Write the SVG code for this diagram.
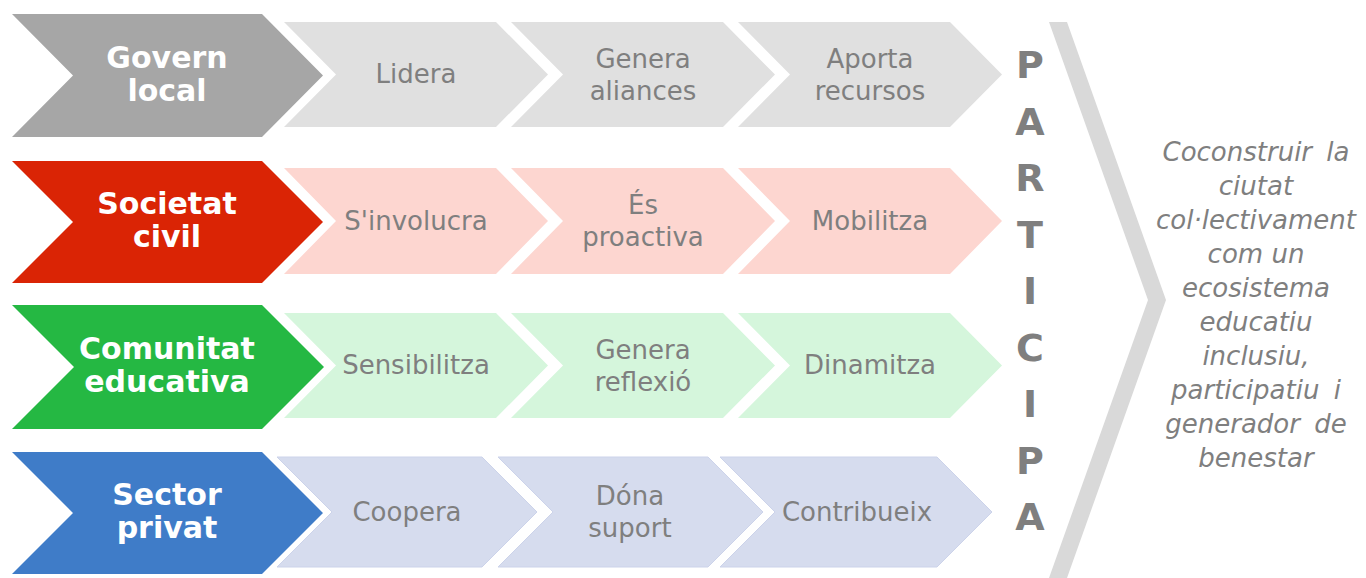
<svg xmlns="http://www.w3.org/2000/svg" width="1366" height="578" viewBox="0 0 1366 578">
<style>
.main{font-family:"DejaVu Sans",Verdana,sans-serif;font-weight:bold;font-size:30px;fill:#ffffff;text-anchor:middle}
.sec{font-family:"DejaVu Sans",Verdana,sans-serif;font-size:26px;fill:#7f7f7f;text-anchor:middle}
.big{font-family:"DejaVu Sans",Verdana,sans-serif;font-weight:bold;font-size:38px;fill:#7f7f7f;text-anchor:middle}
.it{font-family:"DejaVu Sans",Verdana,sans-serif;font-style:italic;font-size:26px;fill:#7f7f7f;text-anchor:middle}
</style>
<rect width="1366" height="578" fill="#ffffff"/>
<g id="govern">
<polygon points="12,14 262,14 323,75.5 262,137 12,137 73,75.5" fill="#a6a6a6"/>
<text class="main" x="167" y="68">Govern</text><text class="main" x="167" y="101">local</text>
</g>
<g id="lidera"><polygon points="284,22 496,22 548,74.5 496,127 284,127 336,74.5" fill="#e0e0e0"/><text class="sec" x="416" y="83">Lidera</text></g>
<g id="genera-aliances"><polygon points="511,22 723,22 775,74.5 723,127 511,127 563,74.5" fill="#e0e0e0"/><text class="sec" x="643" y="68">Genera</text><text class="sec" x="643" y="100">aliances</text></g>
<g id="aporta"><polygon points="738,22 950,22 1002,74.5 950,127 738,127 790,74.5" fill="#e0e0e0"/><text class="sec" x="870" y="68">Aporta</text><text class="sec" x="870" y="100">recursos</text></g>

<g id="societat">
<polygon points="12,161 262,161 323,222 262,283 12,283 73,222" fill="#da2405"/>
<text class="main" x="167" y="214">Societat</text><text class="main" x="167" y="247">civil</text>
</g>
<g id="sinvolucra"><polygon points="284,168 496,168 548,221 496,274 284,274 336,221" fill="#fdd6d0"/><text class="sec" x="416" y="230">S'involucra</text></g>
<g id="es-proactiva"><polygon points="511,168 723,168 775,221 723,274 511,274 563,221" fill="#fdd6d0"/><text class="sec" x="643" y="214">És</text><text class="sec" x="643" y="246">proactiva</text></g>
<g id="mobilitza"><polygon points="738,168 950,168 1002,221 950,274 738,274 790,221" fill="#fdd6d0"/><text class="sec" x="870" y="230">Mobilitza</text></g>

<g id="comunitat">
<polygon points="12,305 262,305 324,367 262,429 12,429 74,367" fill="#25b843"/>
<text class="main" x="167" y="359">Comunitat</text><text class="main" x="167" y="392">educativa</text>
</g>
<g id="sensibilitza"><polygon points="284,313 496,313 548,365.5 496,418 284,418 336,365.5" fill="#d5f6dc"/><text class="sec" x="416" y="374">Sensibilitza</text></g>
<g id="genera-reflexio"><polygon points="511,313 723,313 775,365.5 723,418 511,418 563,365.5" fill="#d5f6dc"/><text class="sec" x="643" y="359">Genera</text><text class="sec" x="643" y="391">reflexió</text></g>
<g id="dinamitza"><polygon points="738,313 950,313 1002,365.5 950,418 738,418 790,365.5" fill="#d5f6dc"/><text class="sec" x="870" y="374">Dinamitza</text></g>

<g id="sector">
<polygon points="12,452 262,452 323,513 262,574 12,574 73,513" fill="#3f7cc8"/>
<text class="main" x="167" y="505">Sector</text><text class="main" x="167" y="538">privat</text>
</g>
<g id="coopera"><polygon points="277,457 482,457 537,512 482,567 277,567 332,512" fill="#d6dcee" stroke="#ccd3ea" stroke-width="1"/><text class="sec" x="407" y="521">Coopera</text></g>
<g id="dona-suport"><polygon points="498,457 708,457 763,512 708,567 498,567 553,512" fill="#d6dcee" stroke="#ccd3ea" stroke-width="1"/><text class="sec" x="630" y="505">Dóna</text><text class="sec" x="630" y="537">suport</text></g>
<g id="contribueix"><polygon points="720,457 937,457 992,512 937,567 720,567 775,512" fill="#d6dcee" stroke="#ccd3ea" stroke-width="1"/><text class="sec" x="857" y="521">Contribueix</text></g>

<g id="participa">
<text class="big" x="1030" y="78">P</text>
<text class="big" x="1030" y="134.5">A</text>
<text class="big" x="1030" y="191">R</text>
<text class="big" x="1030" y="247.5">T</text>
<text class="big" x="1030" y="304">I</text>
<text class="big" x="1030" y="360.5">C</text>
<text class="big" x="1030" y="417">I</text>
<text class="big" x="1030" y="473.5">P</text>
<text class="big" x="1030" y="530">A</text>
</g>
<g id="resultat">
<polygon points="1049,22 1067,22 1166,300 1067,578 1049,578 1148,300" fill="#d9d9d9"/>
<text class="it" x="1256" y="161" word-spacing="6">Coconstruir la</text>
<text class="it" x="1256" y="195">ciutat</text>
<text class="it" x="1256" y="229">col·lectivament</text>
<text class="it" x="1256" y="263">com un</text>
<text class="it" x="1256" y="297">ecosistema</text>
<text class="it" x="1256" y="331">educatiu</text>
<text class="it" x="1256" y="365">inclusiu,</text>
<text class="it" x="1256" y="399" word-spacing="6">participatiu i</text>
<text class="it" x="1256" y="433" word-spacing="6">generador de</text>
<text class="it" x="1256" y="467">benestar</text>
</g>
</svg>
